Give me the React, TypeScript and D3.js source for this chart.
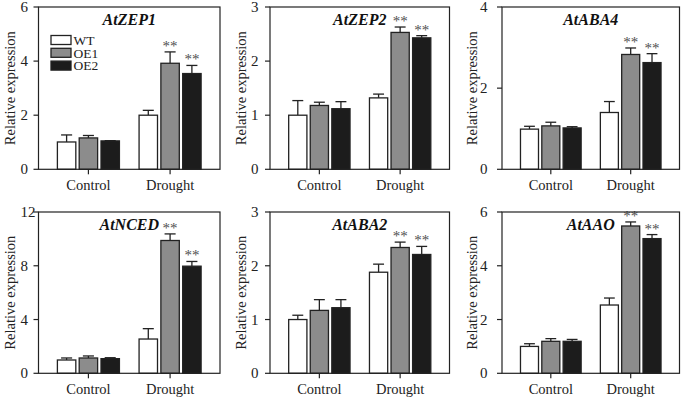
import React from "react";
import * as d3 from "d3";

const categories = ["Control", "Drought"];
const seriesNames = ["WT", "OE1", "OE2"];
const genes = ["AtZEP1", "AtZEP2", "AtABA4", "AtNCED", "AtABA2", "AtAAO"];
const yMaxes = [6, 3, 4, 12, 3, 6];
const yTickSets = [
  [0, 2, 4, 6],
  [0, 1, 2, 3],
  [0, 2, 4],
  [0, 4, 8, 12],
  [0, 1, 2, 3],
  [0, 2, 4, 6],
];

// means [Control, Drought] per series, per gene
const wtMeans = [[1.01, 2.0], [1.0, 1.32], [0.99, 1.4], [0.99, 2.55], [1.0, 1.88], [1.0, 2.54]];
const oe1Means = [[1.16, 3.92], [1.18, 2.53], [1.07, 2.83], [1.14, 9.88], [1.17, 2.34], [1.19, 5.48]];
const oe2Means = [[1.05, 3.54], [1.12, 2.43], [1.02, 2.63], [1.09, 7.97], [1.22, 2.21], [1.19, 5.01]];
// standard errors
const wtErr = [[0.26, 0.18], [0.27, 0.07], [0.07, 0.27], [0.15, 0.77], [0.08, 0.15], [0.1, 0.26]];
const oe1Err = [[0.09, 0.42], [0.06, 0.1], [0.09, 0.16], [0.15, 0.49], [0.2, 0.1], [0.1, 0.15]];
const oe2Err = [[0.01, 0.3], [0.13, 0.04], [0.03, 0.22], [0.07, 0.35], [0.15, 0.15], [0.07, 0.15]];
// significance marks: per series, [Control, Drought]
const sigWT = ["", ""];
const sigOE1 = ["", "**"];
const sigOE2 = ["", "**"];

const colLefts = [38.5, 270, 502];
const colRights = [220, 449.5, 679.5];
const rowTops = [7, 212];
const rowBottoms = [169.3, 373.3];
const tickLabelX = [20.5, 251, 480];
const yLabelX = [15, 246, 477];

const fills = ["#ffffff", "#8c8c8c", "#1c1c1c"];
const stroke = "#222";
const font = "'Liberation Serif', 'Times New Roman', serif";

function Panel({ gi }: { gi: number }) {
  const col = gi % 3;
  const row = Math.floor(gi / 3);
  const left = colLefts[col];
  const right = colRights[col];
  const top = rowTops[row];
  const bottom = rowBottoms[row];
  const w = right - left;
  const y = d3.scaleLinear().domain([0, yMaxes[gi]]).range([bottom, top]);
  const x = d3.scalePoint<string>().domain(categories).range([left, right]).padding(0.611);
  const gw = w * 0.379;
  const xs = d3.scaleBand<string>().domain(seriesNames).range([-gw / 2, gw / 2]).paddingInner(0.155).paddingOuter(0.155);
  const bw = xs.bandwidth();
  const means = [wtMeans[gi], oe1Means[gi], oe2Means[gi]];
  const errs = [wtErr[gi], oe1Err[gi], oe2Err[gi]];
  const sigs = [sigWT, sigOE1, sigOE2];
  const cap = bw * 0.3;

  return (
    <g>
      {categories.map((c, ci) =>
        seriesNames.map((s, si) => {
          const x0 = (x(c) as number) + (xs(s) as number);
          const m = means[si][ci];
          const e = errs[si][ci];
          const cx = x0 + bw / 2;
          return (
            <g key={c + s}>
              <line x1={cx} x2={cx} y1={y(m)} y2={y(m + e)} stroke={stroke} strokeWidth={1.3} />
              <line x1={cx - cap} x2={cx + cap} y1={y(m + e)} y2={y(m + e)} stroke={stroke} strokeWidth={1.3} />
              <rect x={x0} y={y(m)} width={bw} height={bottom - y(m)} fill={fills[si]} stroke={stroke} strokeWidth={1.3} />
              {sigs[si][ci] ? (
                <text x={cx} y={y(m + e) - 1} textAnchor="middle" fontSize={15} fill="#505050" fontFamily={font}>
                  {sigs[si][ci]}
                </text>
              ) : null}
            </g>
          );
        })
      )}
      <rect x={left} y={top} width={w} height={bottom - top} fill="none" stroke={stroke} strokeWidth={1.2} />
      {yTickSets[gi].map((t) => (
        <g key={t}>
          <line x1={left - 5} x2={left} y1={y(t)} y2={y(t)} stroke={stroke} strokeWidth={1.2} />
          <text x={tickLabelX[col]} y={y(t)} dy="0.34em" fontSize={15} fill="#222" fontFamily={font}>
            {t}
          </text>
        </g>
      ))}
      {categories.map((c) => (
        <g key={c}>
          <line x1={x(c)} x2={x(c)} y1={bottom} y2={bottom + 5} stroke={stroke} strokeWidth={1.2} />
          <text x={x(c)} y={bottom + 20.5} textAnchor="middle" fontSize={14.5} fill="#222" fontFamily={font}>
            {c}
          </text>
        </g>
      ))}
      <text
        transform={`translate(${yLabelX[col]},${(top + bottom) / 2}) rotate(-90)`}
        textAnchor="middle"
        fontSize={14.5}
        fill="#222"
        fontFamily={font}
      >
        Relative expression
      </text>
      <text
        x={(left + right) / 2}
        y={top + 17.5}
        textAnchor="middle"
        fontSize={16}
        fontWeight="bold"
        fontStyle="italic"
        fill="#111"
        fontFamily={font}
      >
        {genes[gi]}
      </text>
      {gi === 0
        ? seriesNames.map((s, si) => (
            <g key={s}>
              <rect x={left + 12.5} y={top + 28.5 + si * 12.8} width={20} height={9} fill={fills[si]} stroke={stroke} strokeWidth={1.3} />
              <text x={left + 35} y={top + 37.8 + si * 12.8} fontSize={13.5} fill="#222" fontFamily={font}>
                {s}
              </text>
            </g>
          ))
        : null}
    </g>
  );
}

export default function App() {
  return (
    <svg width={685} height={400} style={{ position: "absolute", left: 0, top: 0, background: "#fff" }}>
      <rect width={685} height={400} fill="#fff" />
      {genes.map((g, gi) => (
        <Panel key={g} gi={gi} />
      ))}
    </svg>
  );
}
